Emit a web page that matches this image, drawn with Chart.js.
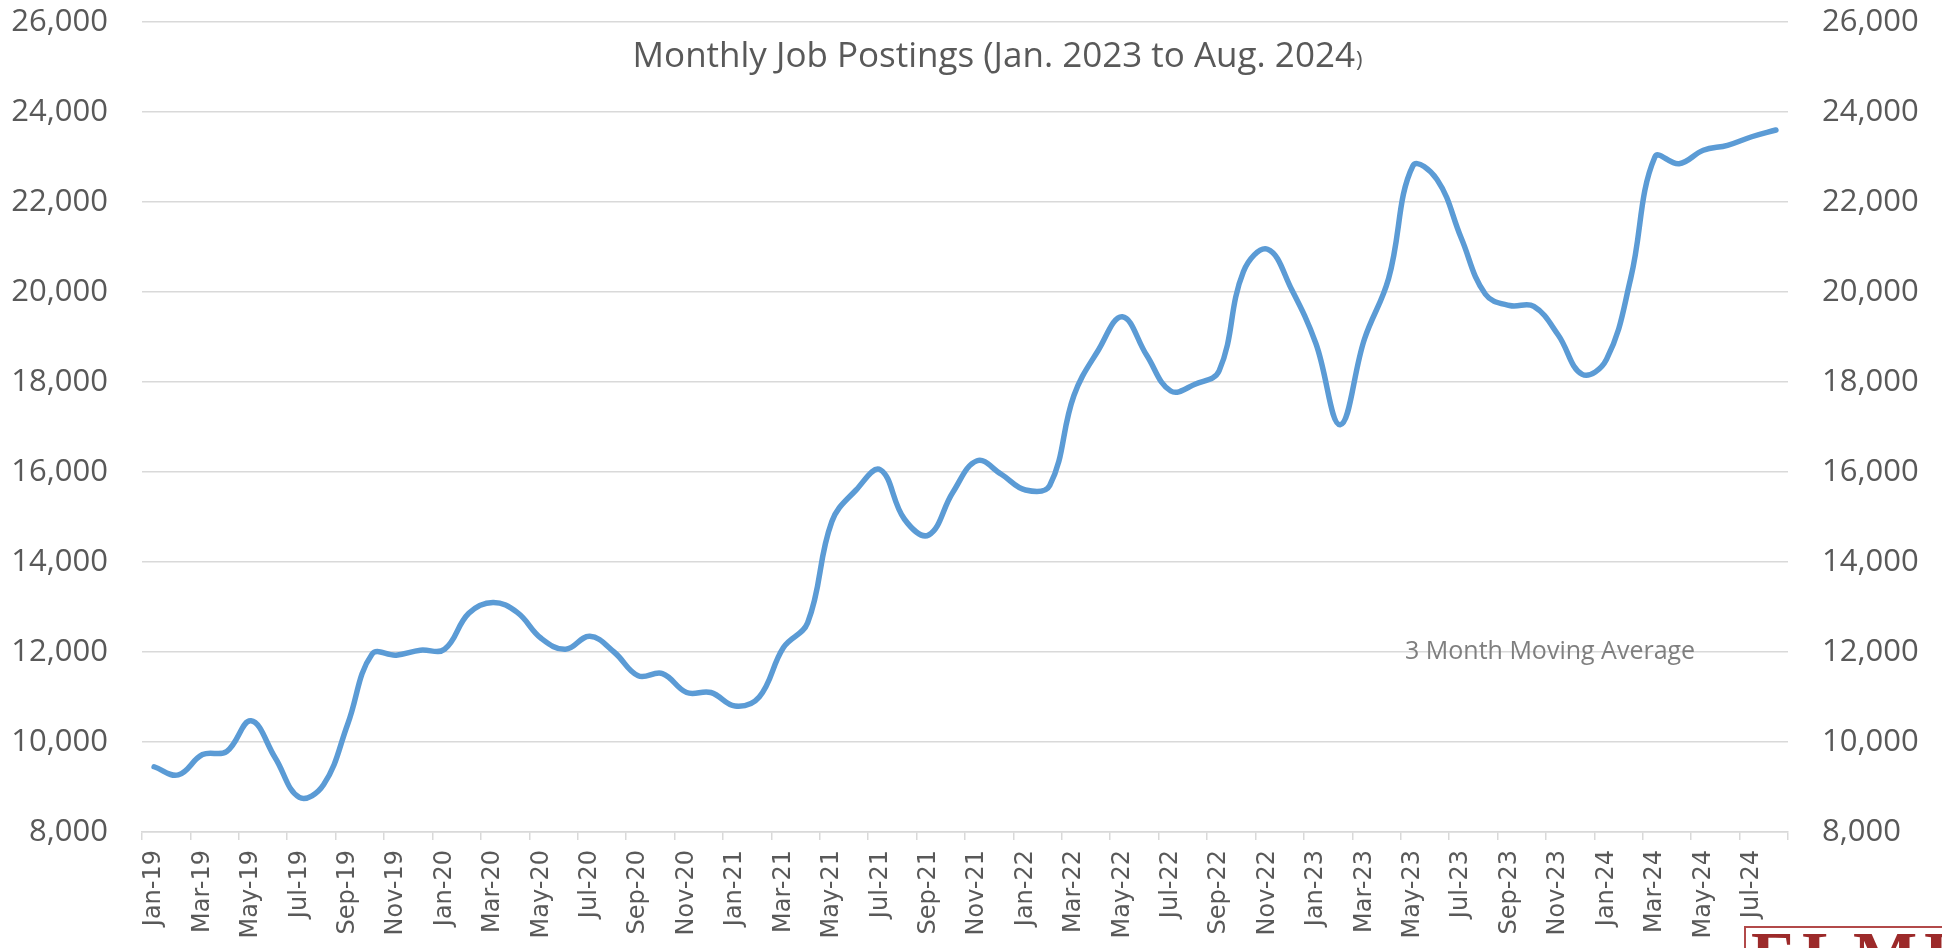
<!DOCTYPE html>
<html>
<head>
<meta charset="utf-8">
<script src="https://cdn.jsdelivr.net/npm/chart.js@4.4.1/dist/chart.umd.min.js"></script>
<style>
  html, body { margin: 0; padding: 0; background: #ffffff; }
  #wrap { width: 1942px; height: 948px; position: relative; }
</style>
</head>
<body>
<div id="wrap"><canvas id="c" width="1942" height="948"></canvas></div>
<script>
// ---- Data ----
const months = [
  'Jan-19','Feb-19','Mar-19','Apr-19','May-19','Jun-19','Jul-19','Aug-19','Sep-19','Oct-19','Nov-19','Dec-19',
  'Jan-20','Feb-20','Mar-20','Apr-20','May-20','Jun-20','Jul-20','Aug-20','Sep-20','Oct-20','Nov-20','Dec-20',
  'Jan-21','Feb-21','Mar-21','Apr-21','May-21','Jun-21','Jul-21','Aug-21','Sep-21','Oct-21','Nov-21','Dec-21',
  'Jan-22','Feb-22','Mar-22','Apr-22','May-22','Jun-22','Jul-22','Aug-22','Sep-22','Oct-22','Nov-22','Dec-22',
  'Jan-23','Feb-23','Mar-23','Apr-23','May-23','Jun-23','Jul-23','Aug-23','Sep-23','Oct-23','Nov-23','Dec-23',
  'Jan-24','Feb-24','Mar-24','Apr-24','May-24','Jun-24','Jul-24','Aug-24'
];
const postings = [
  9450, 9270, 9720, 9790, 10470, 9650, 8770, 9050, 10400, 11950, 11930, 12040,
  12060, 12860, 13100, 12880, 12300, 12060, 12350, 12000, 11470, 11520, 11100, 11100,
  10800, 11000, 12100, 12650, 14900, 15600, 16050, 14950, 14600, 15550, 16250, 15950,
  15600, 15700, 17700, 18700, 19450, 18600, 17800, 17950, 18250, 20450, 20950, 20050,
  18850, 17050, 18950, 20300, 22800, 22500, 21200, 19950, 19700, 19680, 19050, 18170,
  18500, 20300, 23000, 22850, 23150, 23260, 23450, 23600
];
const yMin = 8000;
const yMax = 26000;
const yStep = 2000;
const titleMain = 'Monthly Job Postings (Jan. 2023 to Aug. 2024';
const titleClose = ')';
const noteText = '3 Month Moving Average';
const noteValue = 12000;
const logoText = 'ELMI';

// ---- Custom text plugin ----
const overlay = {
  id: 'overlay',
  afterDraw(chart) {
    const ctx = chart.ctx;
    const ys = chart.scales.y;
    ctx.save();
    // title
    ctx.fillStyle = '#595959';
    ctx.textBaseline = 'alphabetic';
    ctx.textAlign = 'left';
    ctx.font = '35px "Open Sans"';
    const w1 = ctx.measureText(titleMain).width;
    ctx.font = '22px "Open Sans"';
    const w2 = ctx.measureText(titleClose).width;
    const tx = 997 - (w1 + w2) / 2;
    ctx.font = '35px "Open Sans"';
    ctx.fillText(titleMain, tx, 67);
    ctx.font = '22px "Open Sans"';
    ctx.fillText(titleClose, tx + w1 + 1, 67);
    // annotation
    ctx.fillStyle = '#7f7f7f';
    ctx.font = '25px "Open Sans"';
    ctx.textBaseline = 'middle';
    ctx.fillText(noteText, 1405, ys.getPixelForValue(noteValue));
    // logo (cropped at bottom-right)
    ctx.fillStyle = '#ffffff';
    ctx.fillRect(1745, 927, 200, 30);
    ctx.strokeStyle = '#b24a4a';
    ctx.lineWidth = 2;
    ctx.strokeRect(1745, 927, 210, 40);
    ctx.fillStyle = '#9c2a2a';
    ctx.font = 'bold 68px "Liberation Serif"';
    ctx.textBaseline = 'alphabetic';
    ctx.fillText(logoText.split('').join(String.fromCharCode(8202)), 1751, 978);
    ctx.restore();
  }
};

const fmt = v => Number(v).toLocaleString('en-US');
const noPad = s => { s.paddingTop = 0; s.paddingBottom = 0; };

new Chart(document.getElementById('c'), {
  type: 'line',
  data: {
    labels: months,
    datasets: [{
      data: postings,
      borderColor: '#5b9bd5',
      borderWidth: 5.5,
      pointRadius: 0,
      tension: 0.4,
      fill: false,
      borderCapStyle: 'round',
      borderJoinStyle: 'round'
    }]
  },
  options: {
    responsive: false,
    animation: false,
    layout: { padding: { top: 22, left: 0, right: 0, bottom: 0 } },
    plugins: { legend: { display: false }, tooltip: { enabled: false }, title: { display: false } },
    scales: {
      x: {
        type: 'category',
        offset: true,
        grid: {
          offset: true,
          drawOnChartArea: false,
          drawTicks: true,
          tickLength: 8,
          lineWidth: 1.5,
          color: c => (c.index === undefined || c.index % 2 === 0) ? '#d9d9d9' : 'rgba(0,0,0,0)'
        },
        border: { display: true, color: '#d9d9d9', width: 1.5 },
        ticks: {
          autoSkip: false,
          minRotation: 90,
          maxRotation: 90,
          padding: 10,
          color: '#595959',
          font: { family: '"DejaVu Sans"', size: 24 },
          callback: function(v, i) { return i % 2 === 0 ? this.getLabelForValue(v) : ''; }
        },
        afterFit: s => { s.height = 116; s.paddingLeft = 0; s.paddingRight = 0; }
      },
      y: {
        position: 'left',
        min: yMin, max: yMax,
        ticks: { stepSize: yStep, padding: 34, color: '#595959', font: { family: '"Open Sans"', size: 31 }, callback: fmt },
        grid: { color: '#d9d9d9', lineWidth: 1.5, drawTicks: false },
        border: { display: false },
        afterFit: s => { s.width = 142; noPad(s); }
      },
      y2: {
        position: 'right',
        min: yMin, max: yMax,
        ticks: { stepSize: yStep, padding: 34, color: '#595959', font: { family: '"Open Sans"', size: 31 }, callback: fmt },
        grid: { display: false, drawTicks: false },
        border: { display: false },
        afterFit: s => { s.width = 154; noPad(s); }
      }
    }
  },
  plugins: [overlay]
});
</script>
</body>
</html>
